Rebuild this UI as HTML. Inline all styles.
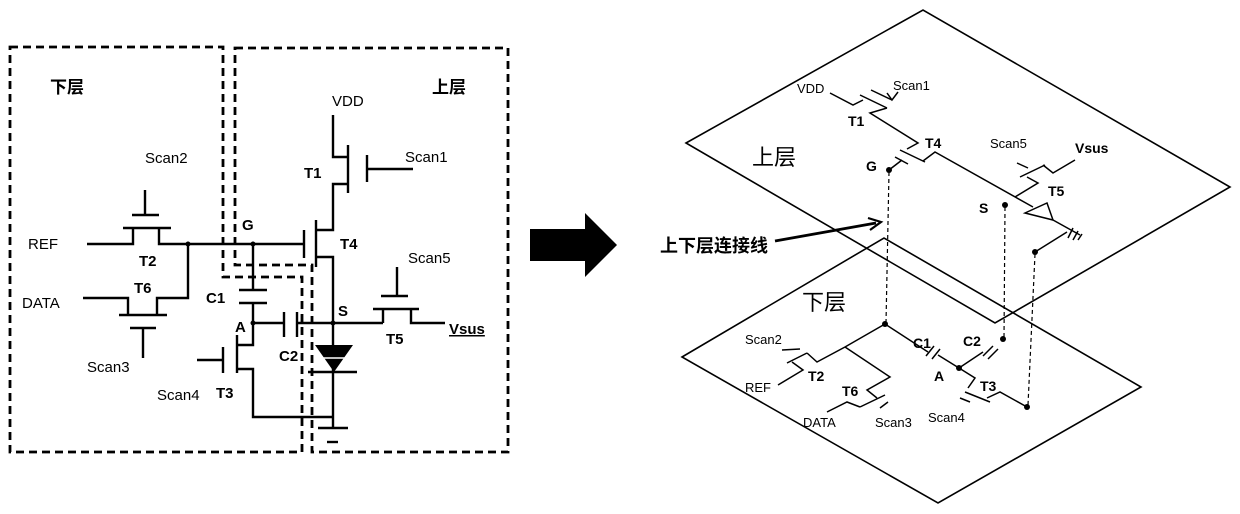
<!DOCTYPE html>
<html><head><meta charset="utf-8"><style>
html,body{margin:0;padding:0;background:#fff;}
svg{display:block;}
text{font-family:"Liberation Sans","Noto Sans CJK SC",sans-serif;fill:#000;}
.b{font-weight:bold;}
</style></head><body>
<svg width="1240" height="514" viewBox="0 0 1240 514" xmlns="http://www.w3.org/2000/svg">
<rect width="1240" height="514" fill="#fff"/>
<g fill="none" stroke="#000" stroke-width="2.8" stroke-dasharray="8,5">
<path d="M10,47 L223,47 L223,277 L302,277 L302,452 L10,452 Z"/>
<path d="M235,48 L508,48 L508,452 L312,452 L312,265 L235,265 Z"/>
</g>
<g font-size="17" class="b">
<text x="50" y="93" class="b">下层</text>
<text x="432" y="93" class="b">上层</text>
</g>
<g font-size="15">
<text x="332" y="106">VDD</text>
<text x="405" y="162">Scan1</text>
<text x="145" y="163">Scan2</text>
<text x="28" y="249">REF</text>
<text x="22" y="308">DATA</text>
<text x="87" y="372">Scan3</text>
<text x="157" y="400">Scan4</text>
<text x="408" y="263">Scan5</text>
</g>
<g font-size="15" class="b">
<text x="304" y="178" class="b">T1</text>
<text x="340" y="249" class="b">T4</text>
<text x="242" y="230" class="b">G</text>
<text x="139" y="266" class="b">T2</text>
<text x="134" y="293" class="b">T6</text>
<text x="206" y="303" class="b">C1</text>
<text x="235" y="332" class="b">A</text>
<text x="279" y="361" class="b">C2</text>
<text x="216" y="398" class="b">T3</text>
<text x="338" y="316" class="b">S</text>
<text x="386" y="344" class="b">T5</text>
<text x="449" y="334" class="b" text-decoration="underline">Vsus</text>
</g>
<g fill="none" stroke="#000" stroke-width="2.4">
<path d="M333,115 V157 H348"/>
<path d="M348,145 V193"/>
<path d="M367,155 V182"/>
<path d="M367,169 H413"/>
<path d="M348,184 H333 V230 H316"/>
<path d="M316,220 V267"/>
<path d="M304,230 V258"/>
<path d="M316,257 H333 V428"/>
<path d="M145,190 V215"/>
<path d="M132,215 H159"/>
<path d="M123,228 H171"/>
<path d="M87,244 H133 V228"/>
<path d="M159,228 V244 H304"/>
<path d="M83,298 H128 V315"/>
<path d="M119,315 H167"/>
<path d="M157,315 V298 H188 V244"/>
<path d="M130,328 H156"/>
<path d="M143,328 V358"/>
<path d="M253,244 V290"/>
<path d="M239,290 H267"/>
<path d="M239,303 H267"/>
<path d="M253,303 V345 H237"/>
<path d="M237,335 V373"/>
<path d="M223,347 V373"/>
<path d="M197,360 H223"/>
<path d="M237,369 H253 V417 H333"/>
<path d="M253,323 H284"/>
<path d="M284,312 V337"/>
<path d="M297,312 V337"/>
<path d="M297,323 H383"/>
<path d="M383,323 V309"/>
<path d="M373,309 H419"/>
<path d="M411,309 V323 H445"/>
<path d="M381,296 H408"/>
<path d="M397,296 V267"/>
<path d="M308,372 H357"/>
<path d="M318,428 H348"/>
<path d="M327,442 H338"/>
</g>
<polygon points="315,345 353,345 334,372" fill="#000"/>
<line x1="322" y1="358" x2="346" y2="358" stroke="#fff" stroke-width="1.5"/>
<g fill="#000">
<circle cx="188" cy="244" r="2.5"/><circle cx="253" cy="244" r="2.5"/>
<circle cx="253" cy="323" r="2.5"/><circle cx="333" cy="323" r="2.5"/>
</g>
<polygon points="530,229 585,229 585,213 617,245 585,277 585,261 530,261" fill="#000"/>

<g fill="none" stroke="#000" stroke-width="1.6">
<polygon points="686,143 923,10 1230,187 995,323"/>
<polygon points="682,357 884,238 1141,387 938,503"/>
</g>
<g font-size="22">
<text x="752" y="165">上层</text>
<text x="802" y="310">下层</text>
</g>
<text x="660" y="252" font-size="18" class="b">上下层连接线</text>
<line x1="775" y1="241" x2="876" y2="223" stroke="#000" stroke-width="2.8"/>
<path d="M868,218 L881,222 L870,230" fill="none" stroke="#000" stroke-width="2.2"/>
<g font-size="13">
<text x="797" y="93">VDD</text>
<text x="893" y="90">Scan1</text>
<text x="990" y="148">Scan5</text>
<text x="745" y="344">Scan2</text>
<text x="745" y="392">REF</text>
<text x="803" y="427">DATA</text>
<text x="875" y="427">Scan3</text>
<text x="928" y="422">Scan4</text>
</g>
<g font-size="14" class="b">
<text x="848" y="126">T1</text>
<text x="925" y="148">T4</text>
<text x="866" y="171">G</text>
<text x="1075" y="153">Vsus</text>
<text x="1048" y="196">T5</text>
<text x="979" y="213">S</text>
<text x="808" y="381">T2</text>
<text x="842" y="396">T6</text>
<text x="913" y="348">C1</text>
<text x="963" y="346">C2</text>
<text x="934" y="381">A</text>
<text x="980" y="391">T3</text>
</g>
<g fill="none" stroke="#000" stroke-width="1.5">
<path d="M830,93 L853,105 L863,100"/>
<path d="M860,95 L887,108"/>
<path d="M871,90 L892,100"/>
<path d="M887,93 L892,100 L898,92"/>
<path d="M887,108 L870,113 L918,143 L907,149"/>
<path d="M900,150 L925,162"/>
<path d="M895,157 L908,164"/>
<path d="M889,170 L902,160"/>
<path d="M923,161 L935,152 L1033,207"/>
<path d="M1015,197 L1038,183 L1027,177"/>
<path d="M1020,177 L1045,165"/>
<path d="M1017,163 L1028,168"/>
<path d="M1043,165 L1053,173 L1075,160"/>
<polygon points="1025,213 1047,203 1053,220"/>
<path d="M1053,220 L1080,235"/>
<path d="M1073,228 L1068,238 M1078,231 L1073,240 M1082,234 L1078,240"/>
<path d="M1035,252 L1067,232"/>
<path d="M885,324 L845,347 L817,362 L807,353"/>
<path d="M807,353 L787,363"/>
<path d="M782,350 L800,349"/>
<path d="M792,362 L803,370 L778,385"/>
<path d="M845,347 L890,377 L867,390 L877,398"/>
<path d="M860,407 L885,395"/>
<path d="M880,408 L888,402"/>
<path d="M827,412 L847,402 L860,407"/>
<path d="M885,324 L928,352"/>
<path d="M926,356 L934,346 M932,359 L940,349"/>
<path d="M938,355 L959,368"/>
<path d="M959,368 L983,352"/>
<path d="M983,356 L993,346 M988,359 L998,349"/>
<path d="M959,368 L975,378 L968,388"/>
<path d="M965,392 L990,402"/>
<path d="M960,398 L970,402"/>
<path d="M987,398 L1000,392 L1027,407"/>
</g>
<g fill="none" stroke="#000" stroke-width="1.2" stroke-dasharray="4,3">
<line x1="889" y1="172" x2="886" y2="323"/>
<line x1="1005" y1="207" x2="1004" y2="338"/>
<line x1="1035" y1="254" x2="1028" y2="405"/>
</g>
<g fill="#000">
<circle cx="889" cy="170" r="3"/><circle cx="1005" cy="205" r="3"/><circle cx="1035" cy="252" r="3"/>
<circle cx="885" cy="324" r="3"/><circle cx="1003" cy="339" r="3"/><circle cx="959" cy="368" r="3"/><circle cx="1027" cy="407" r="3"/>
</g>
</svg>
</body></html>
